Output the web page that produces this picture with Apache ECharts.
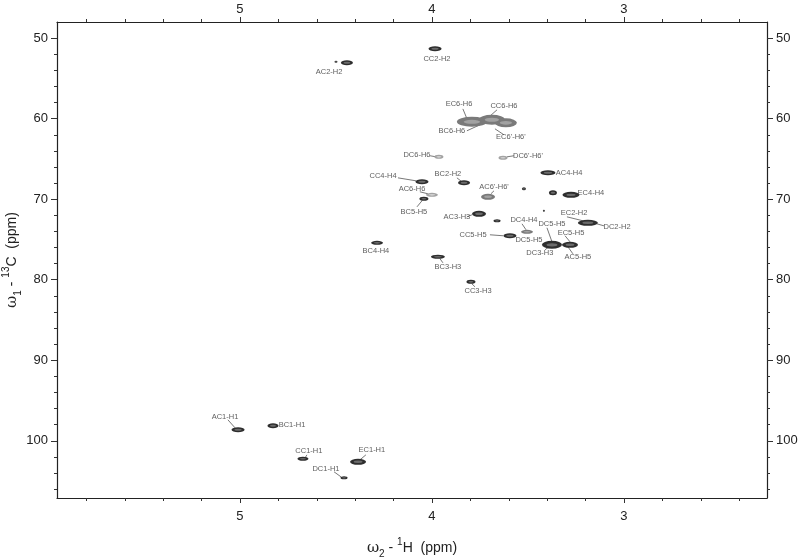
<!DOCTYPE html>
<html>
<head>
<meta charset="utf-8">
<script src="https://cdn.jsdelivr.net/npm/echarts@6/dist/echarts.min.js"></script>
<style>html,body{margin:0;padding:0;background:#fff}#c{width:798px;height:560px}</style>
</head>
<body>
<div id="c"></div>
<script>
// ---------- DATA (ppm) ----------
const peakNames = ['CC2-H2','AC2-H2','dot1','H6a','H6b','H6c','DC6-H6',"DC6'-H6'",'AC4-H4','CC4-H4','BC2-H2','AC6-H6',"AC6'-H6'",'dot2','EC4a','EC4-H4','BC5-H5','AC3-H3','ring1','dot3','DC2-H2','DC4-H4','CC5-H5','DC3-H3','AC5-H5','BC4-H4','BC3-H3','CC3-H3','AC1-H1','BC1-H1','CC1-H1','EC1-H1','DC1-H1'];
const peakH = [3.984,4.443,4.50,3.792,3.688,3.615,3.964,3.630,3.396,4.052,3.833,4.000,3.708,3.521,3.370,3.276,4.042,3.755,3.661,3.417,3.188,3.505,3.594,3.375,3.281,4.286,3.969,3.797,5.010,4.828,4.672,4.385,4.458];
const peakC = [51.33,53.07,52.94,60.39,60.14,60.52,64.74,64.86,66.72,67.84,67.96,69.46,69.70,68.71,69.21,69.46,69.95,71.81,72.68,71.44,72.93,74.05,74.54,75.66,75.66,75.42,77.15,80.26,98.63,98.13,102.23,102.60,104.59];

const labelText = ['CC2-H2','AC2-H2','EC6-H6','CC6-H6','BC6-H6',"EC6'-H6'",'DC6-H6',"DC6'-H6'",'AC4-H4','CC4-H4','BC2-H2','AC6-H6',"AC6'-H6'",'EC4-H4','BC5-H5','AC3-H3','EC2-H2','DC4-H4','DC5-H5','DC2-H2','CC5-H5','EC5-H5','DC5-H5','DC3-H3','AC5-H5','BC4-H4','BC3-H3','CC3-H3','AC1-H1','BC1-H1','CC1-H1','EC1-H1','DC1-H1'];
const labelH = [3.974,4.536,3.859,3.625,3.896,3.589,4.078,3.500,3.286,4.255,3.917,4.104,3.677,3.172,4.094,3.870,3.260,3.521,3.375,3.036,3.786,3.276,3.495,3.438,3.240,4.292,3.917,3.760,5.078,4.729,4.641,4.313,4.552];
const labelC = [52.57,54.18,58.16,58.41,61.51,62.25,64.49,64.61,66.72,67.10,66.85,68.71,68.46,69.21,71.57,72.19,71.69,72.56,73.06,73.43,74.42,74.17,75.04,76.65,77.15,76.41,78.39,81.37,97.02,98.01,101.24,101.12,103.47];

// leader lines: [H start, C start] -> [H end, C end]
const leaderFromH = [3.839,3.661,3.818,3.625,4.010,3.573,4.177,3.870,4.063,3.677,4.078,3.818,3.531,3.297,3.104,3.698,3.401,3.307,3.411,3.266,3.943,3.776,5.063,4.651,4.344,4.510];
const leaderFromC = [58.79,58.90,61.51,62.01,64.61,64.61,67.35,67.35,69.08,68.96,70.95,72.19,73.06,72.19,73.31,74.42,73.55,74.54,76.28,76.78,77.90,80.88,97.39,101.74,101.74,103.85];
const leaderToH   = [3.813,3.714,3.750,3.672,3.979,3.609,4.083,3.844,4.021,3.693,4.052,3.792,3.510,3.214,3.141,3.630,3.375,3.281,3.391,3.292,3.958,3.792,5.026,4.661,4.375,4.474];
const leaderToC   = [60.28,60.02,60.76,61.26,64.74,64.74,67.72,67.84,69.33,69.33,70.20,71.94,73.80,72.68,73.06,74.54,75.29,75.29,75.91,75.91,77.40,80.51,98.38,102.11,102.36,104.47];

const hMajor = [3,4,5];
const hMinor = [2.4,2.6,2.8,3.2,3.4,3.6,3.8,4.2,4.4,4.6,4.8,5.2,5.4,5.6,5.8];
const cMajor = [50,60,70,80,90,100];
const cMinor = [52,54,56,58,62,64,66,68,72,74,76,78,82,84,86,88,92,94,96,98,102,104,106];
const hRange = [2.255, 5.953];
const cRange = [48.0, 107.1];

// ---------- STYLE ----------
const peakW   = [13,12,3,30,26,22,9,9,15,13,12,12,14,4,8,17,9,14,7,2,20,12,13,20,16,12,14,9,13,11,11,16,7];
const peakHt  = [5,5,2,10,10,9,4,4,5,5,5,4,6,3,5,6,4,6,3,2,6,4,5,8,6,4,4,4,5,5,4,6,3];
const peakTone= ['d','d','d','g','g','g','l','l','d','d','d','l','g','d','d','d','d','d','d','d','d','g','d','d','d','d','d','d','d','d','d','d','d'];
const outerCol = {d:'#2e2e2e', g:'#7a7a7a', l:'#a3a3a3'};
const innerCol = {d:'#6b6b6b', g:'#a2a2a2', l:'#d2d2d2'};

const chart = echarts.init(document.getElementById('c'), null, {renderer:'canvas'});

const peakData = peakH.map((h,i)=>[h, peakC[i]]);
const labelData = labelH.map((h,i)=>[h, labelC[i], labelText[i]]);
const leaderData = leaderFromH.map((h,i)=>({coords:[[h, leaderFromC[i]],[leaderToH[i], leaderToC[i]]]}));

const axisLineStyle = {color:'#222', width:1.2};
const tickFont = {fontFamily:'Liberation Sans', fontSize:13, color:'#222'};

function xAx(pos, major){
  return {
    type:'value', position:pos, inverse:true, min:hRange[0], max:hRange[1],
    axisLine:{show:major, onZero:false, lineStyle:axisLineStyle},
    axisTick:{show:true, customValues: major?hMajor:hMinor, length: major?5:3, lineStyle:{color:'#333', width:1}},
    axisLabel:{show:major, customValues:hMajor, margin: pos==='top'?6:12, ...tickFont},
    splitLine:{show:false}
  };
}
function yAx(pos, major){
  return {
    type:'value', position:pos, inverse:true, min:cRange[0], max:cRange[1],
    axisLine:{show:major, onZero:false, lineStyle:axisLineStyle},
    axisTick:{show:true, customValues: major?cMajor:cMinor, length: major?6:3, lineStyle:{color:'#333', width:1}},
    axisLabel:{show:major, customValues:cMajor, margin: 9, ...tickFont},
    splitLine:{show:false}
  };
}
const nameRich = {
  w:{fontFamily:'DejaVu Serif', fontSize:15, color:'#222', lineHeight:22},
  n:{fontFamily:'Liberation Sans', fontSize:14, color:'#222', lineHeight:22},
  sub:{fontFamily:'Liberation Sans', fontSize:10, color:'#222', lineHeight:10, verticalAlign:'bottom'},
  sup:{fontFamily:'Liberation Sans', fontSize:10, color:'#222', lineHeight:10, verticalAlign:'top'}
};
const xs = [xAx('bottom',true), xAx('bottom',false), xAx('top',true), xAx('top',false)];
xs[0].name = '{w|ω}{sub|2}{n| - }{sup|1}{n|H  (ppm)}';
xs[0].nameLocation = 'middle';
xs[0].nameGap = 39;
xs[0].nameMoveOverlap = false;
xs[0].nameTextStyle = {rich:nameRich};
const ys = [yAx('left',true), yAx('left',false), yAx('right',true), yAx('right',false)];
ys[0].name = '{w|ω}{sub|1}{n| - }{sup|13}{n|C  (ppm)}';
ys[0].nameLocation = 'middle';
ys[0].nameRotate = 90;
ys[0].nameGap = 34;
ys[0].nameMoveOverlap = false;
ys[0].nameTextStyle = {rich:nameRich};

chart.setOption({
  animation:false,
  backgroundColor:'#fff',
  grid:{left:57, right:31, top:22, bottom:62, show:false, containLabel:false, outerBoundsMode:'none'},
  xAxis: xs,
  yAxis: ys,
  series:[
    {type:'scatter', xAxisIndex:0, yAxisIndex:0, data:peakData, silent:true,
     symbol:'circle',
     symbolSize:(v,p)=>[peakW[p.dataIndex], peakHt[p.dataIndex]],
     itemStyle:{opacity:1, color:(p)=>outerCol[peakTone[p.dataIndex]]}, z:3},
    {type:'scatter', xAxisIndex:0, yAxisIndex:0, data:peakData, silent:true,
     symbol:'circle',
     symbolSize:(v,p)=>[Math.max(1,peakW[p.dataIndex]*0.55), Math.max(1,peakHt[p.dataIndex]*0.4)],
     itemStyle:{opacity:1, color:(p)=>innerCol[peakTone[p.dataIndex]]}, z:4},
    {type:'lines', coordinateSystem:'cartesian2d', xAxisIndex:0, yAxisIndex:0, silent:true,
     data:leaderData, lineStyle:{color:'#555', width:0.8, opacity:1}, z:2},
    {type:'scatter', xAxisIndex:0, yAxisIndex:0, data:labelData, silent:true,
     symbolSize:0.1, itemStyle:{color:'rgba(0,0,0,0)'},
     label:{show:true, position:'inside', formatter:(p)=>p.value[2],
            fontFamily:'Liberation Sans', fontSize:7.5, color:'#333'}, z:5}
  ]
});
</script>
</body>
</html>
